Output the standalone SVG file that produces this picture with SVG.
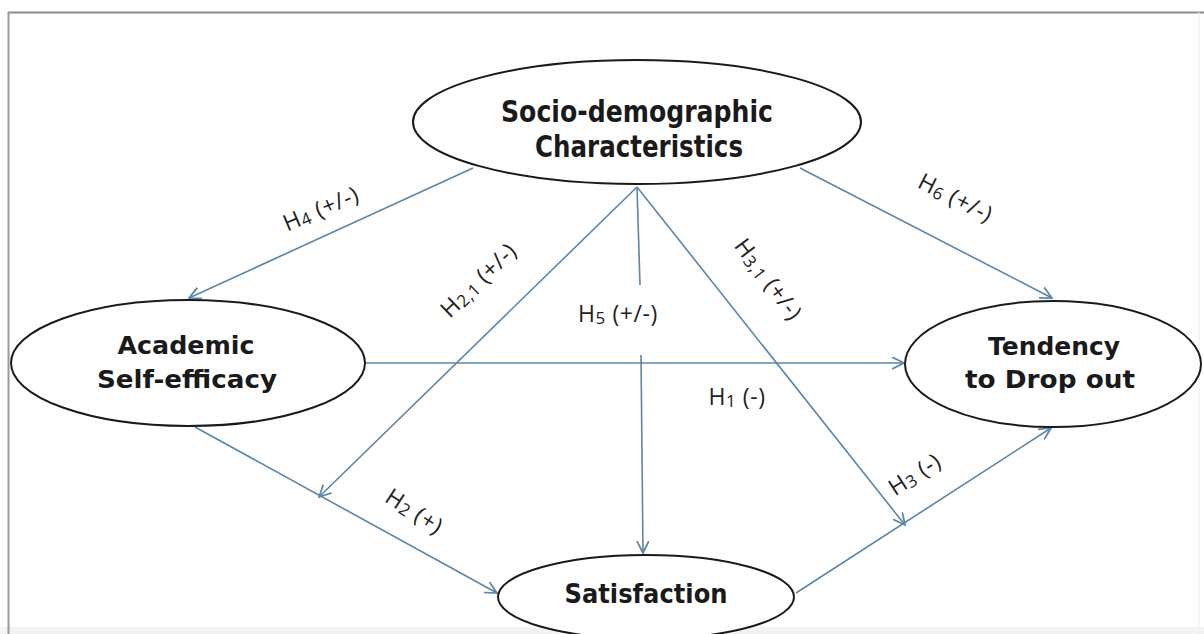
<svg xmlns="http://www.w3.org/2000/svg" width="1204" height="634" viewBox="0 0 1204 634">
<defs>
<style>
.node{fill:#ffffff;stroke:#1a1a1a;stroke-width:2}
.nt{font-family:"DejaVu Sans",Verdana,sans-serif;font-weight:bold;fill:#1a1a1a;text-anchor:middle}
.edge{stroke:#5b86a8;stroke-width:1.6;fill:none}
.lbl{font-family:"Open Sans","Noto Sans",sans-serif;font-size:23px;letter-spacing:0.6px;fill:#222;text-anchor:middle}
.sub{font-size:17px}
</style>
<marker id="arr" markerUnits="userSpaceOnUse" viewBox="0 0 12 12" refX="11" refY="6" markerWidth="13" markerHeight="13" orient="auto">
<path d="M0,0.5 L11,6 L0,11.5" fill="none" stroke="#5b86a8" stroke-width="1.6"/>
</marker>
</defs>
<rect x="0" y="0" width="1204" height="634" fill="#ffffff"/>
<rect x="0" y="627" width="1204" height="7" fill="#f3f3f3"/>
<line x1="8" y1="12.5" x2="1204" y2="12.5" stroke="#8c8c8c" stroke-width="2"/>
<line x1="8.5" y1="12" x2="8.5" y2="634" stroke="#9a9a9a" stroke-width="2"/>
<line x1="1199" y1="12" x2="1199" y2="634" stroke="#ececec" stroke-width="1"/>

<g id="connectors">
<line class="edge" x1="473" y1="168" x2="189" y2="298" marker-end="url(#arr)"/>
<line class="edge" x1="800" y1="168" x2="1052" y2="298" marker-end="url(#arr)"/>
<line class="edge" x1="637" y1="187" x2="319" y2="497" marker-end="url(#arr)"/>
<line class="edge" x1="637" y1="187" x2="640" y2="285"/>
<line class="edge" x1="641" y1="355" x2="643" y2="553" marker-end="url(#arr)"/>
<line class="edge" x1="637" y1="187" x2="905" y2="525" marker-end="url(#arr)"/>
<line class="edge" x1="366" y1="363" x2="904" y2="363" marker-end="url(#arr)"/>
<line class="edge" x1="195" y1="427" x2="497" y2="593" marker-end="url(#arr)"/>
<line class="edge" x1="796" y1="593" x2="1051" y2="428" marker-end="url(#arr)"/>

<text class="lbl" transform="translate(324,216) rotate(-23)">H<tspan class="sub" dy="2">4</tspan><tspan dy="-2"> (+/-)</tspan></text>
<text class="lbl" transform="translate(952,205) rotate(27)">H<tspan class="sub" dy="2">6</tspan><tspan dy="-2"> (+/-)</tspan></text>
<text class="lbl" transform="translate(484,286) rotate(-44)">H<tspan class="sub" dy="2">2,1</tspan><tspan dy="-2"> (+/-)</tspan></text>
<text class="lbl" transform="translate(762,284) rotate(53)">H<tspan class="sub" dy="2">3,1</tspan><tspan dy="-2"> (+/-)</tspan></text>
<text class="lbl" x="618" y="322">H<tspan class="sub" dy="2">5</tspan><tspan dy="-2"> (+/-)</tspan></text>
<text class="lbl" x="737" y="405">H<tspan class="sub" dy="2">1</tspan><tspan dy="-2"> (-)</tspan></text>
<text class="lbl" transform="translate(410,518) rotate(33)">H<tspan class="sub" dy="2">2</tspan><tspan dy="-2"> (+)</tspan></text>
<text class="lbl" transform="translate(919,481) rotate(-33)">H<tspan class="sub" dy="2">3</tspan><tspan dy="-2"> (-)</tspan></text>
</g>

<g id="node-socio">
<ellipse class="node" cx="637" cy="122" rx="224" ry="62"/>
<text class="nt" x="637" y="122" font-size="30" textLength="272" lengthAdjust="spacingAndGlyphs">Socio-demographic</text>
<text class="nt" x="639" y="157" font-size="30" textLength="208" lengthAdjust="spacingAndGlyphs">Characteristics</text>
</g>

<g id="node-academic">
<ellipse class="node" cx="188" cy="363" rx="177" ry="63"/>
<text class="nt" x="186" y="354" font-size="25" textLength="137" lengthAdjust="spacingAndGlyphs">Academic</text>
<text class="nt" x="187" y="388" font-size="25" textLength="180" lengthAdjust="spacingAndGlyphs">Self-efficacy</text>
</g>

<g id="node-tendency">
<ellipse class="node" cx="1053" cy="364" rx="148" ry="63"/>
<text class="nt" x="1054" y="355" font-size="25" textLength="132" lengthAdjust="spacingAndGlyphs">Tendency</text>
<text class="nt" x="1050" y="388" font-size="25" textLength="170" lengthAdjust="spacingAndGlyphs">to Drop out</text>
</g>

<g id="node-satisfaction">
<ellipse class="node" cx="646" cy="597" rx="148" ry="42"/>
<text class="nt" x="646" y="603" font-size="26" textLength="163" lengthAdjust="spacingAndGlyphs">Satisfaction</text>
</g>
</svg>
